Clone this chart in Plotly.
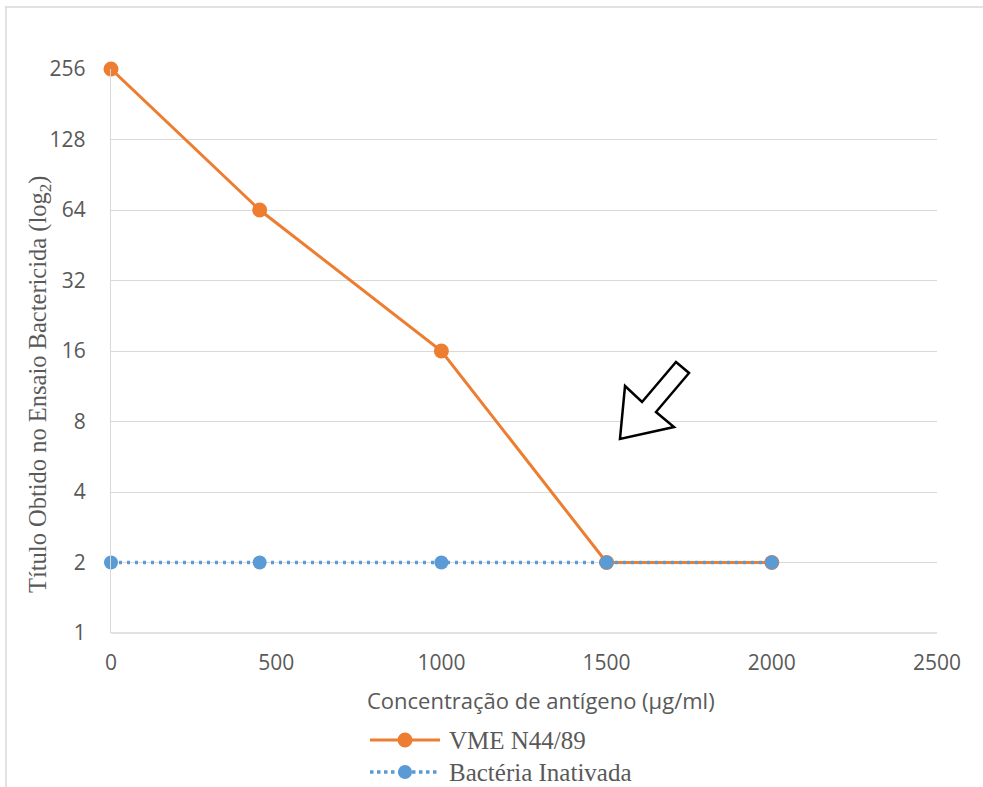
import plotly.graph_objects as go
import math

concentracao = [0, 450, 1000, 1500, 2000]
vme_n44_89 = [256, 64, 16, 2, 2]
bacteria_inativada = [2, 2, 2, 2, 2]
y_ticks = [1, 2, 4, 8, 16, 32, 64, 128, 256]
x_ticks = [0, 500, 1000, 1500, 2000, 2500]
series_names = ["VME N44/89", "Bactéria Inativada"]
series_colors = ["#ED7D31", "#5B9BD5"]

W, H = 983, 787
L, R, T, B = 111, 46, 69, 154
pw, ph = W - L - R, H - T - B

def px(x):
    return (x - L) / pw

def py(y):
    return (H - B - y) / ph

fig = go.Figure()
fig.add_trace(go.Scatter(
    x=concentracao, y=vme_n44_89, name=series_names[0], mode="lines+markers",
    line=dict(color=series_colors[0], width=3),
    marker=dict(color=series_colors[0], size=15), cliponaxis=False,
))
fig.add_trace(go.Scatter(
    x=concentracao, y=bacteria_inativada, name=series_names[1], mode="lines+markers",
    line=dict(color=series_colors[1], width=3.5, dash="3px,5px"),
    marker=dict(color=series_colors[1], size=14), cliponaxis=False,
))

arrow_px = [(620, 439), (625, 386), (642, 402), (676, 362), (689, 373), (656, 412), (674, 427)]
path = "M " + " L ".join(f"{px(a):.4f},{py(b):.4f}" for a, b in arrow_px) + " Z"

shapes = [
    dict(type="path", xref="paper", yref="paper", path=path,
         line=dict(color="black", width=2.5), fillcolor="white"),
    dict(type="line", xref="paper", yref="paper", x0=px(5), x1=px(983), y0=py(7), y1=py(7),
         line=dict(color="#d9d9d9", width=1.5)),
    dict(type="line", xref="paper", yref="paper", x0=px(6), x1=px(6), y0=py(7), y1=py(787),
         line=dict(color="#d9d9d9", width=1.5)),
    dict(type="line", xref="paper", yref="paper", x0=0, x1=1, y0=0, y1=0,
         line=dict(color="#d9d9d9", width=1.3), layer="below"),
]

annotations = [
    dict(text="Concentração de antígeno (µg/ml)", xref="paper", yref="paper",
         x=px(541), y=py(700), showarrow=False, xanchor="center", yanchor="middle",
         font=dict(family="Open Sans", size=22, color="#595959")),
    dict(text="Título Obtido no Ensaio Bactericida (log<sub>2</sub>)", xref="paper", yref="paper",
         x=px(39), y=py(384), showarrow=False, xanchor="center", yanchor="middle", textangle=-90,
         font=dict(family="Liberation Serif", size=24.5, color="#595959")),
]

# custom legend
legend_rows = [740, 772]
for i, (nm, col) in enumerate(zip(series_names, series_colors)):
    yy = legend_rows[i]
    shapes.append(dict(type="line", xref="paper", yref="paper", x0=px(370), x1=px(440),
                       y0=py(yy), y1=py(yy),
                       line=dict(color=col, width=3 if i == 0 else 3.5,
                                 dash="solid" if i == 0 else "dot")))
    r = 7.5 if i == 0 else 7
    shapes.append(dict(type="circle", xref="paper", yref="paper",
                       x0=px(405 - r), x1=px(405 + r), y0=py(yy + r), y1=py(yy - r),
                       fillcolor=col, line=dict(color=col, width=0)))
    annotations.append(dict(text=nm, xref="paper", yref="paper", x=px(447), y=py(yy),
                            showarrow=False, xanchor="left", yanchor="middle",
                            font=dict(family="Liberation Serif", size=25, color="#595959")))

fig.update_layout(
    width=W, height=H,
    margin=dict(l=L, r=R, t=T, b=B),
    paper_bgcolor="white", plot_bgcolor="white",
    shapes=shapes, annotations=annotations,
    showlegend=False,
    xaxis=dict(range=[0, 2500], tickvals=x_ticks, showgrid=False, zeroline=False,
               showline=False, ticks="", ticklabelstandoff=15,
               tickfont=dict(family="Open Sans", size=21, color="#595959")),
    yaxis=dict(type="log", range=[0, math.log10(256)], tickvals=y_ticks,
               ticktext=[str(v) for v in y_ticks], showgrid=True, gridcolor="#d9d9d9",
               gridwidth=1.3, zeroline=False, showline=True, linecolor="#d9d9d9", linewidth=1.3,
               ticks="", ticklabelstandoff=20,
               tickfont=dict(family="Open Sans", size=21, color="#595959")),
)

fig.write_html("out.html")
